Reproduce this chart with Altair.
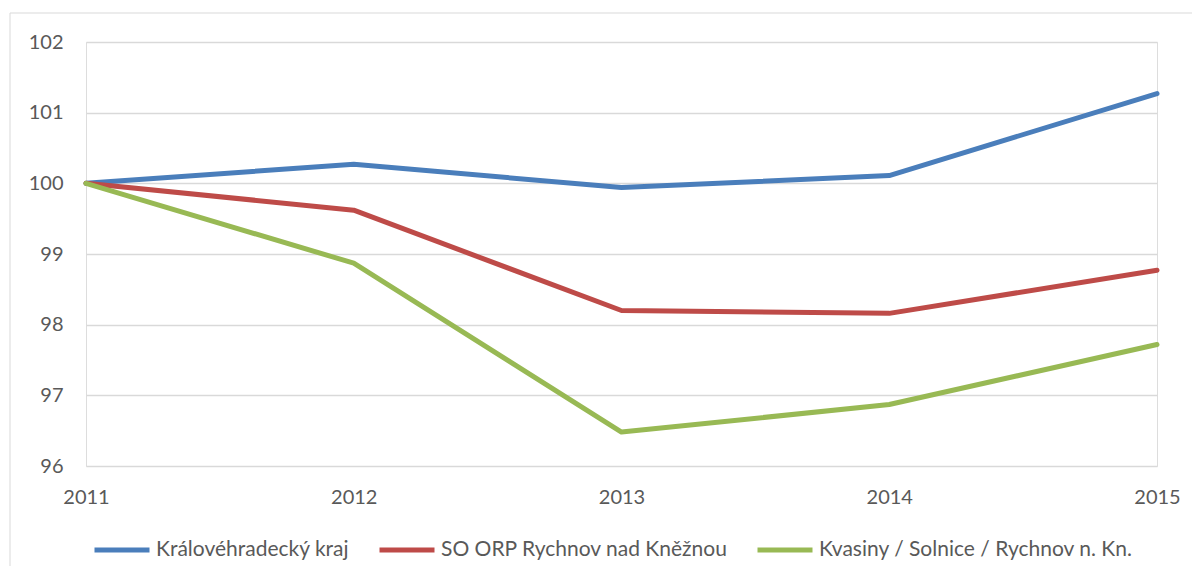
import altair as alt
import pandas as pd

years = [2011, 2012, 2013, 2014, 2015]
series_names = [
    "Královéhradecký kraj",
    "SO ORP Rychnov nad Kněžnou",
    "Kvasiny / Solnice / Rychnov n. Kn.",
]
kraj = [100.0, 100.27, 99.94, 100.11, 101.27]
orp = [100.0, 99.62, 98.20, 98.16, 98.77]
obce = [100.0, 98.87, 96.48, 96.87, 97.72]
colors = ["#4a7ebb", "#be4b48", "#98b954"]

rows = []
for name, vals in zip(series_names, [kraj, orp, obce]):
    for y, v in zip(years, vals):
        rows.append({"rok": y, "hodnota": v, "serie": name})
df = pd.DataFrame(rows)

FONT = "Lato"
TXT = "#595959"
FS = 20

border = alt.Chart(pd.DataFrame({"a": [0]})).mark_rect(
    fill=None, stroke="#d9d9d9", strokeWidth=1
).encode(
    x=alt.value(-76), x2=alt.value(1111), y=alt.value(-29), y2=alt.value(560)
)

lines = alt.Chart(df).mark_line(strokeWidth=5, strokeCap="round", strokeJoin="round").encode(
    x=alt.X("rok:Q",
            scale=alt.Scale(domain=[2011, 2015], nice=False, zero=False),
            axis=alt.Axis(values=years, format="d", title=None, grid=False,
                          domain=False, ticks=False, labelPadding=21,
                          labelFlush=False, labelOverlap=False,
                          labelFontSize=FS, labelColor=TXT, labelFont=FONT)),
    y=alt.Y("hodnota:Q",
            scale=alt.Scale(domain=[96, 102], nice=False, zero=False),
            axis=alt.Axis(values=[96, 97, 98, 99, 100, 101, 102], title=None,
                          domain=False, ticks=False, labelPadding=23,
                          labelFontSize=FS, labelColor=TXT, labelFont=FONT,
                          gridColor="#d9d9d9", gridWidth=1.5)),
    color=alt.Color("serie:N",
                    scale=alt.Scale(domain=series_names, range=colors),
                    sort=series_names,
                    legend=alt.Legend(title=None, orient="none", direction="horizontal",
                                      legendX=6, legendY=478,
                                      symbolType="stroke", symbolSize=3025,
                                      symbolStrokeWidth=5, labelFontSize=21,
                                      labelColor=TXT, labelFont=FONT,
                                      labelOffset=4, columnPadding=19,
                                      labelLimit=500)),
    order="rok:Q",
)

chart = alt.layer(border, lines).properties(
    width=1071, height=424,
    autosize=alt.AutoSizeParams(type="none"),
    padding={"left": 78, "top": 34, "right": 35, "bottom": 100},
).configure_view(stroke=None).configure(background="white")

chart.save("out.html", embed_options={"renderer": "svg", "actions": False})
